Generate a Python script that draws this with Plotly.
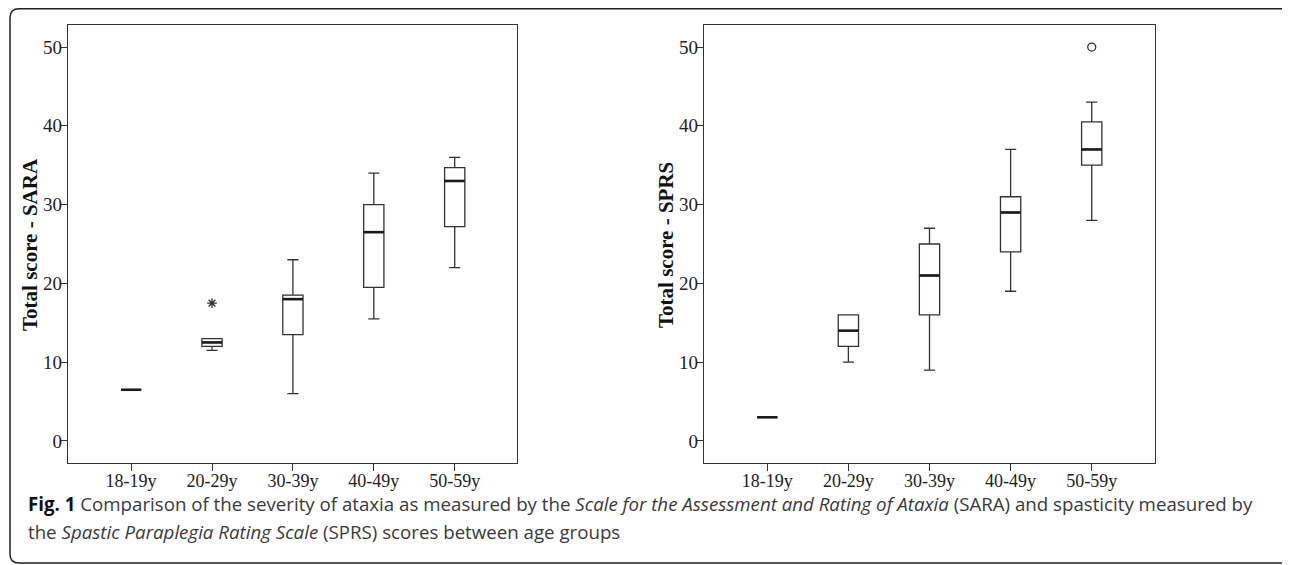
import plotly.graph_objects as go

# page body has an 8px default margin, so the figure is laid out in
# reference-pixel coordinates shifted by OFF
OFF = 8
W, H = 1290 - OFF, 565 - OFF

categories = ["18-19y", "20-29y", "30-39y", "40-49y", "50-59y"]

# SARA (left panel)
sara_lower = [6.5, 11.5, 6.0, 15.5, 22.0]
sara_q1 = [6.5, 12.0, 13.5, 19.5, 27.2]
sara_median = [6.5, 12.5, 18.0, 26.5, 33.0]
sara_q3 = [6.5, 13.0, 18.5, 30.0, 34.7]
sara_upper = [6.5, 13.0, 23.0, 34.0, 36.0]
sara_outlier_cat = ["20-29y"]
sara_outlier_val = [17.5]

# SPRS (right panel)
sprs_lower = [3.0, 10.0, 9.0, 19.0, 28.0]
sprs_q1 = [3.0, 12.0, 16.0, 24.0, 35.0]
sprs_median = [3.0, 14.0, 21.0, 29.0, 37.0]
sprs_q3 = [3.0, 16.0, 25.0, 31.0, 40.5]
sprs_upper = [3.0, 16.0, 27.0, 37.0, 43.0]
sprs_outlier_cat = ["50-59y"]
sprs_outlier_val = [50.0]

y_ticks = [0, 10, 20, 30, 40, 50]

LINE = "#333333"
BOXW = 0.25
pos = list(range(len(categories)))


def px(x):
    return (x - OFF) / W


def py(y):
    return 1 - (y - OFF) / H


fig = go.Figure()


def add_panel(xa, ya, lower, q1, med, q3, upper, ocat, oval, osym):
    fig.add_trace(go.Box(
        x=pos, q1=q1, median=med, q3=q3, lowerfence=lower, upperfence=upper,
        width=BOXW, whiskerwidth=0.55, boxpoints=False,
        fillcolor="white", line=dict(color=LINE, width=1.3),
        xaxis=xa, yaxis=ya, showlegend=False, hoverinfo="skip",
    ))
    mx, my = [], []
    for i, m in zip(pos, med):
        mx += [i - BOXW / 2, i + BOXW / 2, None]
        my += [m, m, None]
    fig.add_trace(go.Scatter(
        x=mx, y=my, mode="lines", line=dict(color="#1a1a1a", width=2.6),
        xaxis=xa, yaxis=ya, showlegend=False, hoverinfo="skip",
    ))
    fig.add_trace(go.Scatter(
        x=[categories.index(c) for c in ocat], y=oval, mode="markers",
        marker=dict(symbol=osym, size=8, color=LINE, line=dict(color=LINE, width=1.3)),
        xaxis=xa, yaxis=ya, showlegend=False, hoverinfo="skip",
    ))


add_panel("x", "y", sara_lower, sara_q1, sara_median, sara_q3, sara_upper,
          sara_outlier_cat, sara_outlier_val, "asterisk-open")
add_panel("x2", "y2", sprs_lower, sprs_q1, sprs_median, sprs_q3, sprs_upper,
          sprs_outlier_cat, sprs_outlier_val, "circle-open")

serif = "Liberation Serif, Times New Roman, serif"

xcommon = dict(
    tickmode="array", tickvals=pos, ticktext=categories,
    showline=True, mirror=True, linecolor=LINE, linewidth=1.3,
    ticks="outside", ticklen=7, tickcolor=LINE, tickwidth=1.3,
    showgrid=False, zeroline=False, fixedrange=True,
    ticklabelstandoff=-6,
    tickfont=dict(family=serif, size=18, color="#222222"),
)
ycommon = dict(
    tickmode="array", tickvals=y_ticks, ticktext=[str(v) for v in y_ticks],
    range=[-2.8, 52.8],
    showline=True, mirror=True, linecolor=LINE, linewidth=1.3,
    ticks="outside", ticklen=7, tickcolor=LINE, tickwidth=1.3,
    showgrid=False, zeroline=False, fixedrange=True,
    ticklabelstandoff=-6,
    tickfont=dict(family=serif, size=19, color="#222222"),
)

ydom = [py(463), py(25)]
fig.update_layout(
    width=W, height=H,
    margin=dict(l=0, r=0, t=0, b=0),
    paper_bgcolor="white", plot_bgcolor="white",
    showlegend=False,
    xaxis=dict(xcommon, domain=[px(68), px(517)], range=[-0.78, 4.77], anchor="y",
               autorange=False),
    yaxis=dict(ycommon, domain=ydom, anchor="x", autorange=False),
    xaxis2=dict(xcommon, domain=[px(704), px(1155)], range=[-0.78, 4.78], anchor="y2",
                autorange=False),
    yaxis2=dict(ycommon, domain=ydom, anchor="x2", autorange=False),
)

titlefont = dict(family=serif, size=21, color="#111111")
fig.add_annotation(text="<b>Total score - SARA</b>", textangle=-90, x=px(30), y=py(245),
                   xref="paper", yref="paper", showarrow=False, font=titlefont,
                   xanchor="center", yanchor="middle")
fig.add_annotation(text="<b>Total score - SPRS</b>", textangle=-90, x=px(666), y=py(245),
                   xref="paper", yref="paper", showarrow=False, font=titlefont,
                   xanchor="center", yanchor="middle")

capfont = dict(family="Open Sans, Noto Sans, sans-serif", size=18.7, color="#3a3a3a")
fig.add_annotation(
    text="<b style='color:#111111'>Fig. 1</b> Comparison of the severity of ataxia as measured by the "
         "<i>Scale for the Assessment and Rating of Ataxia</i> (SARA) and spasticity measured by",
    x=px(26), y=py(503), xref="paper", yref="paper", showarrow=False,
    xanchor="left", yanchor="middle", align="left", font=capfont)
fig.add_annotation(
    text="the <i>Spastic Paraplegia Rating Scale</i> (SPRS) scores between age groups",
    x=px(26), y=py(531), xref="paper", yref="paper", showarrow=False,
    xanchor="left", yanchor="middle", align="left", font=capfont)

# rounded outer frame
x0, y0, x1, y1, r = 10, 8.8, 1298, 563, 9
path = (f"M {px(x0)},{py(y1 - r)} L {px(x0)},{py(y0 + r)} "
        f"Q {px(x0)},{py(y0)} {px(x0 + r)},{py(y0)} "
        f"L {px(x1 - r)},{py(y0)} Q {px(x1)},{py(y0)} {px(x1)},{py(y0 + r)} "
        f"L {px(x1)},{py(y1 - r)} Q {px(x1)},{py(y1)} {px(x1 - r)},{py(y1)} "
        f"L {px(x0 + r)},{py(y1)} Q {px(x0)},{py(y1)} {px(x0)},{py(y1 - r)} Z")
fig.add_shape(type="path", path=path, xref="paper", yref="paper",
              line=dict(color="#222222", width=1.5), layer="below")

fig.write_html("out.html")
